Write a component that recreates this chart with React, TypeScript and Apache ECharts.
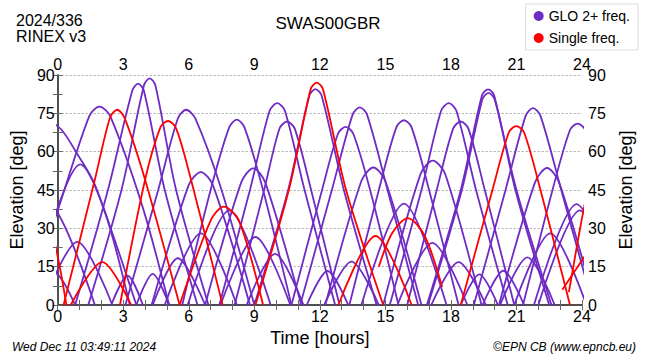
import React, { useEffect, useRef } from "react";
import * as echarts from "echarts";

// Time [hours], elevation [deg] points
const gloPasses: number[][][] = [
  [[-1.4, 74], [0, 70], [0.9, 59], [1.7, 47], [3.6, 0]],
  [[-3.4, 0], [-1.3, 42], [0, 36], [1.7, 0]],
  [[-1.5, 0], [0, 37], [1.45, 74], [1.91, 77.6], [2.4, 74], [3.9, 38], [5.1, 0]],
  [[-1.2, 0], [0, 38], [1.03, 55], [2.1, 38], [3.3, 0]],
  [[-0.7, 0], [0.9, 24.7], [2.5, 0]],
  [[-1.0, 16], [0, 12], [0.8, 0]],
  [[0.8, 0], [2.3, 45], [3.42, 84], [3.68, 86.6], [3.94, 84], [4.9, 45], [6.4, 0]],
  [[1.4, 0], [2.92, 45], [3.95, 86], [4.21, 88.7], [4.47, 86], [5.42, 45], [6.9, 0]],
  [[3.1, 0], [4.6, 45], [5.5, 73], [5.88, 76.4], [6.3, 73], [7.5, 45], [9.0, 0]],
  [[2.45, 0], [3.2, 11.5], [3.9, 0]],
  [[3.6, 0], [4.35, 12.2], [5.1, 0]],
  [[4.35, 0], [5.5, 18.3], [6.75, 0]],
  [[4.9, 0], [6.55, 28], [8.2, 0]],
  [[4.3, 0], [6.0, 47], [6.55, 52], [7.1, 47], [8.8, 0]],
  [[5.7, 0], [7.0, 45], [7.85, 69.5], [8.2, 72.5], [8.55, 69.5], [9.4, 45], [10.7, 0]],
  [[5.95, 0], [7.85, 37], [9.75, 0]],
  [[6.75, 0], [8.4, 48], [8.95, 53.5], [9.5, 48], [11.15, 0]],
  [[7.45, 0], [9.05, 26.6], [10.65, 0]],
  [[7.4, 0], [8.8, 45], [9.7, 76], [10.05, 79], [10.4, 76], [11.3, 45], [12.7, 0]],
  [[8.1, 0], [9.45, 45], [10.15, 69], [10.5, 71.8], [10.85, 69], [11.6, 45], [12.9, 0]],
  [[8.65, 0], [9.95, 20], [11.25, 0]],
  [[9.0, 0], [10.55, 45], [11.52, 82], [11.8, 84.5], [12.08, 82], [13.1, 45], [14.6, 0]],
  [[11.4, 0], [12.35, 13.3], [13.3, 0]],
  [[12.2, 0], [13.45, 17], [14.7, 0]],
  [[10.7, 0], [12.1, 45], [12.83, 67], [13.18, 69.7], [13.53, 67], [14.3, 45], [15.6, 0]],
  [[11.1, 0], [12.55, 45], [13.5, 74.5], [13.83, 77.3], [14.16, 74.5], [15.1, 45], [16.5, 0]],
  [[12.25, 0], [13.9, 48.5], [14.45, 53.8], [15.0, 48.5], [16.65, 0]],
  [[13.35, 0], [14.7, 45], [15.5, 69.5], [15.85, 72.3], [16.2, 69.5], [17.0, 45], [18.35, 0]],
  [[13.9, 0], [15.85, 39.7], [17.8, 0]],
  [[15.55, 0], [17.15, 24.3], [18.75, 0]],
  [[14.9, 0], [16.6, 51], [17.17, 56.5], [17.75, 51], [19.4, 0]],
  [[15.2, 0], [16.65, 45], [17.55, 76], [17.9, 79], [18.25, 76], [19.15, 45], [20.6, 0]],
  [[17.1, 0], [18.35, 16.8], [19.6, 0]],
  [[16.0, 0], [17.35, 45], [18.1, 69], [18.45, 71.8], [18.8, 69], [19.55, 45], [20.9, 0]],
  [[16.9, 0], [18.45, 45], [19.42, 82], [19.7, 84.4], [19.98, 82], [20.95, 45], [22.5, 0]],
  [[16.95, 0], [18.5, 45], [19.44, 80.5], [19.72, 83], [20.0, 80.5], [21.0, 45], [22.6, 0]],
  [[18.45, 0], [19.3, 12], [20.15, 0]],
  [[19.45, 0], [20.4, 13.4], [21.35, 0]],
  [[20.25, 0], [21.5, 18.6], [22.75, 0]],
  [[19.05, 0], [20.5, 45], [21.42, 74], [21.76, 77], [22.1, 74], [23.05, 45], [24.5, 0]],
  [[20.2, 0], [21.85, 48], [22.4, 53.6], [22.95, 48], [24.6, 0]],
  [[20.9, 0], [22.55, 28], [24.2, 0]],
  [[21.3, 0], [22.65, 45], [23.45, 68.5], [23.8, 71], [24.15, 68.5], [25.0, 45]],
  [[21.8, 0], [23.75, 39.5], [25.7, 0]],
  [[22.0, 0], [23.9, 37], [25.8, 0]],
];

const singlePasses: number[][][] = [
  [[-0.7, 44], [0, 19], [0.4, 0]],
  [[0.27, 0], [1.7, 49], [2.4, 73.5], [2.73, 76.4], [3.07, 73], [4.0, 49], [5.58, 0]],
  [[0.6, 0], [2.04, 16.8], [3.36, 0]],
  [[2.85, 0], [4.0, 49], [4.7, 69.5], [5.05, 72], [5.4, 69.5], [5.95, 54], [7.55, 0]],
  [[5.58, 0], [7.0, 33], [7.6, 38.5], [8.3, 33], [9.4, 0]],
  [[9.05, 0], [10.58, 45], [11.58, 84.5], [11.86, 87], [12.14, 84.5], [13.2, 45], [14.9, 0]],
  [[12.85, 0], [14.55, 27], [16.2, 0]],
  [[14.7, 15], [15.3, 28], [16.03, 34], [16.8, 27], [17.6, 7]],
  [[18.45, 0], [19.9, 45], [20.65, 67.5], [20.99, 70], [21.35, 67.5], [22.1, 45], [23.45, 0]],
  [[23.4, 5], [24, 34], [24.5, 55]],
  [[23.1, 6], [24, 17.5], [24.6, 25]],
];

const GLO_NAME = "GLO 2+ freq.";
const SINGLE_NAME = "Single freq.";
const GLO_COLOR = "#6f2cc4";
const SINGLE_COLOR = "#ff0000";
const FONT = "Liberation Sans, Arial, sans-serif";

export default function App() {
  const ref = useRef<HTMLDivElement>(null);
  useEffect(() => {
    document.body.style.margin = "0";
    if (!ref.current) return;
    const chart = echarts.init(ref.current, undefined, { renderer: "svg" });
    const mk = (p: number[][], name: string, color: string, z: number) => ({
      type: "line",
      name,
      data: p,
      xAxisIndex: 0,
      yAxisIndex: 0,
      showSymbol: false,
      smooth: 0.3,
      clip: true,
      silent: true,
      z,
      itemStyle: { color },
      lineStyle: { color, width: 1.8 },
    });
    const axisCommon = {
      type: "value",
      axisLine: { show: true, lineStyle: { color: "#444", width: 1.5 } },
      axisTick: { show: true, inside: true, length: 5, lineStyle: { color: "#666" } },
      minorTick: { show: true, splitNumber: 3, length: 5, lineStyle: { color: "#666" } },
      axisLabel: { color: "#000", fontSize: 16, fontFamily: FONT, margin: 3 },
      splitLine: { show: false },
    };
    chart.setOption({
      animation: false,
      textStyle: { fontFamily: FONT },
      title: [
        {
          text: "2024/336\nRINEX v3",
          left: 11,
          top: 7,
          textStyle: { fontSize: 16, fontWeight: "normal", color: "#000", lineHeight: 16, fontFamily: FONT },
        },
        {
          text: "SWAS00GBR",
          left: 323,
          textAlign: "center",
          top: 10,
          textStyle: { fontSize: 17, fontWeight: "normal", color: "#000", fontFamily: FONT },
        },
      ],
      legend: {
        right: 12,
        top: 4,
        orient: "vertical",
        icon: "circle",
        itemWidth: 10,
        itemHeight: 10,
        itemGap: 8,
        padding: [5, 8, 5, 8],
        borderColor: "#ddd",
        borderWidth: 1,
        textStyle: { fontSize: 14, color: "#000", fontFamily: FONT },
        data: [GLO_NAME, SINGLE_NAME],
      },
      grid: { left: 54, right: 68, top: 75, bottom: 55 },
      xAxis: [
        {
          ...axisCommon,
          position: "bottom",
          min: 0,
          max: 24,
          interval: 3,
          name: "Time [hours]",
          nameLocation: "middle",
          nameGap: 17,
          nameTextStyle: { fontSize: 18, color: "#000", fontFamily: FONT },
        },
        {
          ...axisCommon,
          position: "top",
          min: 0,
          max: 24,
          interval: 3,
        },
      ],
      yAxis: [
        {
          ...axisCommon,
          position: "left",
          min: 0,
          max: 90,
          interval: 15,
          minorTick: { show: true, splitNumber: 2, length: 5, lineStyle: { color: "#666" } },
          name: "Elevation [deg]",
          nameLocation: "middle",
          nameGap: 24,
          nameTextStyle: { fontSize: 18, color: "#000", fontFamily: FONT },
          splitLine: { show: true, lineStyle: { color: "#aaa", type: [2, 2], width: 1 } },
        },
        {
          ...axisCommon,
          position: "right",
          min: 0,
          max: 90,
          interval: 15,
          minorTick: { show: true, splitNumber: 2, length: 5, lineStyle: { color: "#666" } },
          axisLabel: { color: "#000", fontSize: 16, fontFamily: FONT, margin: 6 },
          name: "Elevation [deg]",
          nameLocation: "middle",
          nameGap: 27,
          nameRotate: 90,
          nameTextStyle: { fontSize: 18, color: "#000", fontFamily: FONT },
        },
      ],
      graphic: [
        {
          type: "text",
          left: 12,
          top: 341,
          style: { text: "Wed Dec 11 03:49:11 2024", fontSize: 12, fontStyle: "italic", fill: "#000", fontFamily: FONT },
        },
        {
          type: "text",
          right: 14,
          top: 341,
          style: { text: "©EPN CB (www.epncb.eu)", fontSize: 12, fontStyle: "italic", fill: "#000", fontFamily: FONT },
        },
      ],
      series: [
        ...gloPasses.map((p) => mk(p, GLO_NAME, GLO_COLOR, 2)),
        ...singlePasses.map((p) => mk(p, SINGLE_NAME, SINGLE_COLOR, 3)),
      ],
    });
    return () => chart.dispose();
  }, []);
  return <div ref={ref} style={{ width: 650, height: 360 }} />;
}
